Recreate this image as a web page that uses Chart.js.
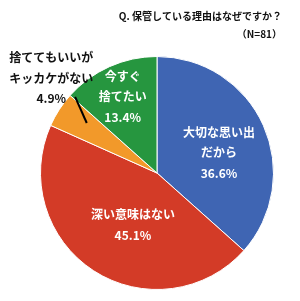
<!DOCTYPE html>
<html>
<head>
<meta charset="utf-8">
<script src="https://cdn.jsdelivr.net/npm/chart.js@4"></script>
<style>
  html, body { margin: 0; padding: 0; background: #fff; }
  #wrap { width: 300px; height: 301px; }
</style>
</head>
<body>
<div id="wrap"><canvas id="pieChart" width="300" height="301"></canvas></div>
<script>
// 데이터
const categories = ['大切な思い出だから', '深い意味はない', '捨ててもいいがキッカケがない', '今すぐ捨てたい'];
const labelLines = [['大切な思い出', 'だから'], ['深い意味はない'], ['捨ててもいいが', 'キッカケがない'], ['今すぐ', '捨てたい']];
const values = [36.6, 45.1, 4.9, 13.4];
const titleText = 'Q. 保管している理由はなぜですか？';
const nText = '（N=81）';

const colors = ['#3F65B3', '#D33B27', '#F2992A', '#26963F'];
const FONT = '"Noto Sans CJK JP", "Noto Sans", sans-serif';

// 라벨 위치 (반지름 비율, 각도 보정)
const labelStyle = [
  { r: 0.56, shift: 6, color: '#fff' },
  { r: 0.49, shift: -8, color: '#fff' },
  { r: 1.22, shift: 9, color: '#111', leader: [{ r: 0.74, shift: 2.5 }, { r: 0.96, shift: 10 }] },
  { r: 0.72, shift: 0, color: '#fff' }
];

const labelPlugin = {
  id: 'labelPlugin',
  afterDraw(chart) {
    const ctx = chart.ctx;
    const meta = chart.getDatasetMeta(0);
    const deg = Math.PI / 180;
    ctx.save();
    ctx.textAlign = 'center';
    ctx.textBaseline = 'middle';
    meta.data.forEach((arc, i) => {
      const p = arc.getProps(['x', 'y', 'startAngle', 'endAngle', 'outerRadius'], true);
      const st = labelStyle[i];
      const midBase = (p.startAngle + p.endAngle) / 2;
      const pt = (r, shift) => [
        p.x + Math.cos(midBase + shift * deg) * p.outerRadius * r,
        p.y + Math.sin(midBase + shift * deg) * p.outerRadius * r
      ];
      // 지시선
      if (st.leader) {
        const a = pt(st.leader[0].r, st.leader[0].shift);
        const b = pt(st.leader[1].r, st.leader[1].shift);
        ctx.beginPath();
        ctx.strokeStyle = '#000';
        ctx.lineWidth = 2;
        ctx.moveTo(a[0], a[1]);
        ctx.lineTo(b[0], b[1]);
        ctx.stroke();
      }
      const c = pt(st.r, st.shift);
      const lines = labelLines[i].concat([values[i].toFixed(1) + '%']);
      const lh = 20.5;
      const y0 = c[1] - (lines.length - 1) * lh / 2;
      ctx.fillStyle = st.color;
      ctx.font = 'bold 12px ' + FONT;
      lines.forEach((t, k) => ctx.fillText(t, c[0], y0 + k * lh));
    });
    // 제목
    ctx.fillStyle = '#111';
    ctx.textAlign = 'right';
    ctx.font = 'bold 10px ' + FONT;
    ctx.fillText(titleText, 282, 16);
    ctx.fillText(nText, 282, 34);
    ctx.restore();
  }
};

new Chart(document.getElementById('pieChart'), {
  type: 'pie',
  data: {
    labels: categories,
    datasets: [{
      data: values,
      backgroundColor: colors,
      borderColor: '#fff',
      borderWidth: 1
    }]
  },
  options: {
    responsive: false,
    maintainAspectRatio: false,
    animation: { duration: 0 },
    layout: { padding: { left: 40, right: 26, top: 56, bottom: 11 } },
    plugins: {
      legend: { display: false },
      tooltip: { enabled: false }
    }
  },
  plugins: [labelPlugin]
});
</script>
</body>
</html>
